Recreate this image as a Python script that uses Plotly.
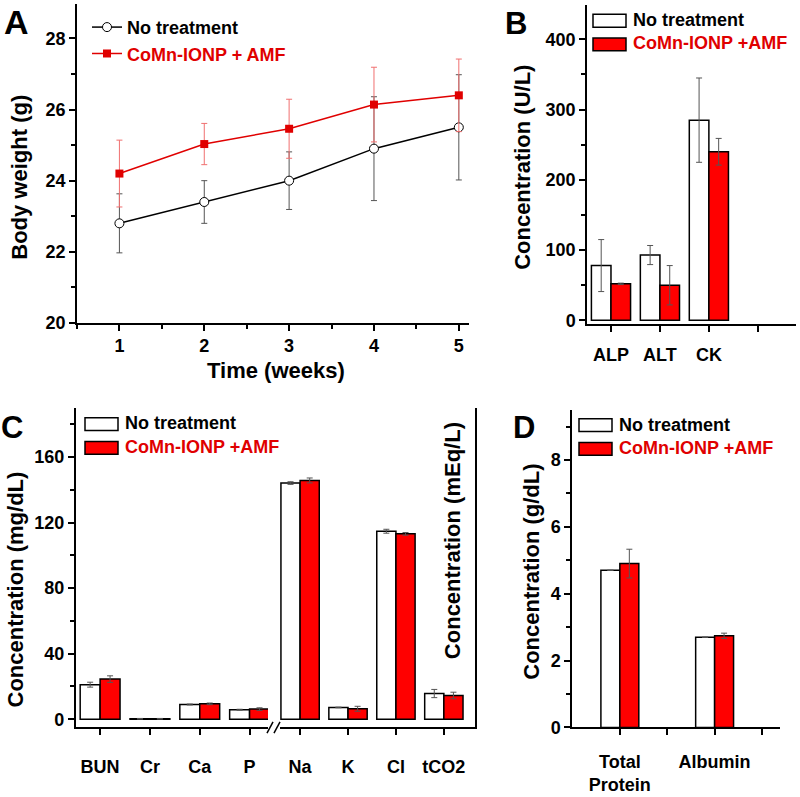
import plotly.graph_objects as go

W, H = 800, 797

# A - body weight over time
weeks = [1, 2, 3, 4, 5]
bw_ctrl = [22.8, 23.4, 24.0, 24.9, 25.5]
bw_ctrl_err = [0.83, 0.6, 0.81, 1.46, 1.48]
bw_trt = [24.2, 25.03, 25.46, 26.14, 26.4]
bw_trt_err = [0.94, 0.58, 0.83, 1.05, 1.02]

# B - enzymes (U/L)
enz = ["ALP", "ALT", "CK"]
enz_ctrl = [78, 93, 285]
enz_ctrl_err = [37, 13.6, 60]
enz_trt = [52, 50, 240]
enz_trt_err = [1, 28, 19]

# C - chemistry (mg/dL | mEq/L)
chem = ["BUN", "Cr", "Ca", "P", "Na", "K", "Cl", "tCO2"]
chem_ctrl = [21.1, 0.3, 9.0, 5.8, 144.1, 7.2, 114.7, 15.7]
chem_ctrl_err = [1.5, 0.2, 0.3, 0.3, 0.8, 0.2, 1.2, 2.5]
chem_trt = [24.5, 0.3, 9.4, 6.2, 145.7, 6.4, 113.1, 14.5]
chem_trt_err = [2.0, 0.2, 0.5, 0.8, 1.5, 1.5, 0.8, 2.0]

# D - proteins (g/dL)
prot = ["Total<br>Protein", "Albumin"]
prot_ctrl = [4.7, 2.7]
prot_ctrl_err = [0, 0]
prot_trt = [4.9, 2.74]
prot_trt_err = [0.43, 0.08]

RED = "#FF0000"
LRED = "#E00000"
FONT = "Liberation Sans, Arial, sans-serif"


def px(x):
    return x / W


def py(y):
    return 1 - y / H


def ax(**kw):
    d = dict(showline=True, linecolor="black", linewidth=1.5, ticks="outside",
             tickcolor="black", tickwidth=1.5, ticklen=6, showgrid=False, zeroline=False,
             tickfont=dict(family=FONT, size=18, color="black", weight="bold"))
    d.update(kw)
    return d


def bar_pair(cats, v1, e1, v2, e2, xa, ya):
    err = dict(type="data", color="#555555", thickness=1, width=3)
    b1 = go.Bar(x=cats, y=v1, error_y=dict(array=e1, **err), xaxis=xa, yaxis=ya,
                marker=dict(color="white", line=dict(color="black", width=1.5)), showlegend=False)
    b2 = go.Bar(x=cats, y=v2, error_y=dict(array=e2, **err), xaxis=xa, yaxis=ya,
                marker=dict(color=RED, line=dict(color="black", width=1.5)), showlegend=False)
    return [b1, b2]


fig = go.Figure()

fig.add_trace(go.Scatter(x=weeks, y=bw_ctrl, mode="lines+markers", name="No treatment",
                         line=dict(color="black", width=1.5),
                         marker=dict(symbol="circle", size=9, color="white", line=dict(color="black", width=1)),
                         error_y=dict(type="data", array=bw_ctrl_err, color="#555555", thickness=1, width=3),
                         xaxis="x", yaxis="y"))
fig.add_trace(go.Scatter(x=weeks, y=bw_trt, mode="lines+markers",
                         name="<span style='color:#E00000'>CoMn-IONP + AMF</span>",
                         line=dict(color=LRED, width=1.5),
                         marker=dict(symbol="square", size=8, color=LRED),
                         error_y=dict(type="data", array=bw_trt_err, color="#F07070", thickness=1, width=3),
                         xaxis="x", yaxis="y"))

for t in bar_pair(enz, enz_ctrl, enz_ctrl_err, enz_trt, enz_trt_err, "x2", "y2"):
    fig.add_trace(t)
for t in bar_pair(chem[:4], chem_ctrl[:4], chem_ctrl_err[:4], chem_trt[:4], chem_trt_err[:4], "x3", "y3"):
    fig.add_trace(t)
for t in bar_pair(chem[4:], chem_ctrl[4:], chem_ctrl_err[4:], chem_trt[4:], chem_trt_err[4:], "x4", "y4"):
    fig.add_trace(t)
for t in bar_pair(prot, prot_ctrl, prot_ctrl_err, prot_trt, prot_trt_err, "x5", "y5"):
    fig.add_trace(t)

yC = [py(736.7), py(413)]

fig.update_layout(
    width=W, height=H, margin=dict(l=0, r=0, t=0, b=0),
    paper_bgcolor="white", plot_bgcolor="white",
    font=dict(family=FONT, size=18, color="black", weight="bold"),
    barmode="group", bargap=0.2, bargroupgap=0,
    legend=dict(x=px(87), y=py(9), xanchor="left", yanchor="top", bgcolor="rgba(0,0,0,0)",
                font=dict(family=FONT, size=18, color="black", weight="bold"), tracegroupgap=0),
    xaxis=ax(domain=[px(77), px(469)], range=[0.5, 5.12], anchor="y", tick0=1, dtick=1,
             ticklabelstandoff=0, minor=dict(ticks="outside", dtick=0.5, ticklen=4, tickcolor="black", tickwidth=1.5)),
    yaxis=ax(domain=[py(327), py(4)], range=[20, 28.97], anchor="x", tick0=20, dtick=2,
             minor=dict(ticks="outside", dtick=1, ticklen=4, tickcolor="black", tickwidth=1.5)),
    xaxis2=ax(domain=[px(587), px(796)], range=[-0.49, 3.78], anchor="y2", type="category",
              categoryorder="array", categoryarray=enz + [" "], ticklabelstandoff=8),
    yaxis2=ax(domain=[py(328), py(5)], range=[-5, 449], anchor="x2", tick0=0, dtick=100,
              minor=dict(ticks="outside", dtick=50, ticklen=4, tickcolor="black", tickwidth=1.5)),
    xaxis3=ax(domain=[px(75.7), px(268)], range=[-0.49, 3.37], anchor="y3", type="category",
              categoryorder="array", categoryarray=chem[:4], ticklabelstandoff=16),
    yaxis3=ax(domain=yC, range=[-5, 190], anchor="x3", tick0=0, dtick=40,
              minor=dict(ticks="outside", dtick=20, ticklen=4, tickcolor="black", tickwidth=1.5)),
    xaxis4=ax(domain=[px(279.5), px(475)], range=[-0.43, 3.65], anchor="y4", type="category",
              categoryorder="array", categoryarray=chem[4:], ticklabelstandoff=16),
    yaxis4=ax(domain=yC, range=[-5, 190], anchor="x4", side="right", ticks="", showticklabels=False),
    xaxis5=ax(domain=[px(572), px(780)], range=[-1.01, 3.38], anchor="y5", type="category",
              categoryorder="array", categoryarray=[prot[0], " ", prot[1], "  "], ticklabelstandoff=11),
    yaxis5=ax(domain=[py(736.7), py(415)], range=[0, 9.5], anchor="x5", tick0=0, dtick=2,
              minor=dict(ticks="outside", dtick=1, ticklen=4, tickcolor="black", tickwidth=1.5)),
)

anns = []


def txt(x, y, s, size=22, angle=0, color="black", xanchor="center"):
    anns.append(dict(x=px(x), y=py(y), xref="paper", yref="paper", text=s, showarrow=False,
                     textangle=angle, xanchor=xanchor, yanchor="middle",
                     font=dict(family=FONT, size=size, color=color, weight="bold")))


# panel letters
txt(16, 22, "A", size=34)
txt(516, 24, "B", size=31)
txt(12, 433, "C", size=31)
txt(524, 433, "D", size=31)

# axis titles
txt(20, 180, "Body weight (g)", angle=-90)
txt(276, 375, "Time (weeks)")
txt(523, 170, "Concentration (U/L)", angle=-90)
txt(16, 597, "Concentration (mg/dL)", angle=-90)
txt(452, 547, "Concentration (mEq/L)", angle=-90)
txt(532, 579, "Concentration (g/dL)", angle=-90)

shapes = []


def legend_box(x0, y0, y1, tx, ty0, ty1):
    for (a, b, ty, fill, lab, col) in [(y0, y0 + 13, ty0, "white", "No treatment", "black"),
                                       (y1, y1 + 13, ty1, RED, "CoMn-IONP +AMF", LRED)]:
        shapes.append(dict(type="rect", xref="paper", yref="paper", x0=px(x0), x1=px(x0 + 33),
                           y0=py(b), y1=py(a), fillcolor=fill, line=dict(color="black", width=1.5)))
        txt(tx, ty, lab, size=18, color=col, xanchor="left")


legend_box(593, 14.5, 38.5, 631, 20, 44)
legend_box(85, 423, 447, 123, 428.5, 452.5)
legend_box(579, 424, 448, 617, 430, 454)

# axis break marks on panel C
for x0 in [267, 274]:
    shapes.append(dict(type="line", xref="paper", yref="paper", x0=px(x0), y0=py(742.5),
                       x1=px(x0 + 6), y1=py(731), line=dict(color="black", width=1.5)))

fig.update_layout(annotations=anns, shapes=shapes)

fig.write_html("out.html", config={"displayModeBar": False},
               post_script="document.body.style.margin='0';")
